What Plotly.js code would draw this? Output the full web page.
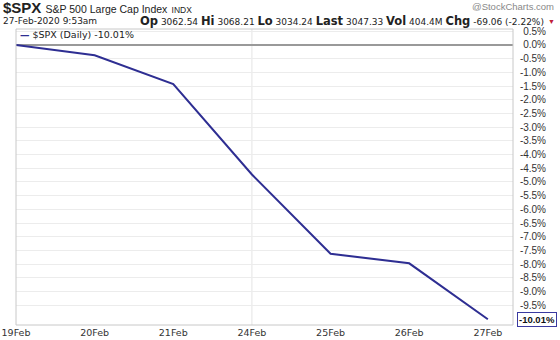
<!DOCTYPE html>
<html><head><meta charset="utf-8">
<script src="https://cdn.plot.ly/plotly-3.0.1.min.js"></script>
<style>body{margin:0;background:#fff}#c{width:560px;height:340px}</style>
</head><body><div id="c"></div>
<script>
const dates = ['19Feb','20Feb','21Feb','24Feb','25Feb','26Feb','27Feb'];
const pctChange = [0, -0.38, -1.43, -4.73, -7.62, -7.97, -10.01];
const yTickVals = [0.5,0,-0.5,-1,-1.5,-2,-2.5,-3,-3.5,-4,-4.5,-5,-5.5,-6,-6.5,-7,-7.5,-8,-8.5,-9,-9.5];
const yTickText = ['0.5%','0.0%','-0.5%','-1.0%','-1.5%','-2.0%','-2.5%','-3.0%','-3.5%','-4.0%','-4.5%','-5.0%','-5.5%','-6.0%','-6.5%','-7.0%','-7.5%','-8.0%','-8.5%','-9.0%','-9.5%'];
const lastLabel = '-10.01%';
const weekStart = '24Feb';

const W=560,H=340,mL=16,mR=14,mT=29,mB=15;
const pw=W-mL-mR, ph=H-mT-mB;
const px=q=>(q-mL)/pw, py=p=>(H-mB-p)/ph;
const xd = (513-mL)/pw;

const trace = {x:dates, y:pctChange, type:'scatter', mode:'lines',
  line:{color:'#2e2e92', width:2}, hoverinfo:'skip', cliponaxis:false};

const F='Arial, Liberation Sans, sans-serif';
const B="<b style='font-size:11.5px'>";
const layout = {
  width:W, height:H, margin:{l:mL,r:mR,t:mT,b:mB}, showlegend:false,
  paper_bgcolor:'#fff', plot_bgcolor:'#fff',
  xaxis:{type:'category', domain:[0,xd], range:[0,6.32], showgrid:false, zeroline:false,
    tickfont:{family:'DejaVu Sans, sans-serif',size:9.5,color:'#333'}, ticks:'', showline:false, automargin:false, fixedrange:true},
  yaxis:{range:[-10.22,0.58], anchor:'free', position:1, side:'left',
    tickvals:yTickVals, ticktext:yTickText, tickfont:{family:F,size:10,color:'#333'},
    showgrid:true, gridcolor:'#ececec', gridwidth:1, zeroline:true, zerolinecolor:'#999', zerolinewidth:1.5,
    ticks:'', showline:false, automargin:false, fixedrange:true},
  shapes:[
    {type:'line', xref:'x', yref:'paper', x0:weekStart, x1:weekStart, y0:0, y1:1, line:{color:'#e4e4e4',width:1}, layer:'below'},
    {type:'rect', xref:'paper', yref:'paper', x0:0, x1:xd, y0:0, y1:1, line:{color:'#c8c8c8',width:1}}
  ],
  annotations:[
    {xref:'paper',yref:'paper',x:px(1),y:py(7.5),xanchor:'left',yanchor:'middle',showarrow:false,
     text:"<b>$SPX</b> <span style='font-size:10.5px'>S&P 500 Large Cap Index</span> <span style='font-size:8.5px'>INDX</span>",
     font:{family:F,size:15,color:'#222'}},
    {xref:'paper',yref:'paper',x:px(556),y:py(6),xanchor:'right',yanchor:'middle',showarrow:false,
     text:'@StockCharts.com', font:{family:F,size:9.5,color:'#888'}},
    {xref:'paper',yref:'paper',x:px(1),y:py(21),xanchor:'left',yanchor:'middle',showarrow:false,
     text:'27-Feb-2020 9:53am', font:{family:'DejaVu Sans, sans-serif',size:9,color:'#222'}},
    {xref:'paper',yref:'paper',x:px(546),y:py(21),xanchor:'right',yanchor:'middle',showarrow:false,
     text:B+"Op</b> 3062.54 "+B+"Hi</b> 3068.21 "+B+"Lo</b> 3034.24 "+B+"Last</b> 3047.33 "+B+"Vol</b> 404.4M "+B+"Chg</b> -69.06 (-2.22%)",
     font:{family:'DejaVu Sans, sans-serif',size:9,color:'#222'}},
    {xref:'paper',yref:'paper',x:px(551),y:py(21),xanchor:'center',yanchor:'middle',showarrow:false,
     text:'▼', font:{family:F,size:7,color:'#c0203a'}},
    {xref:'paper',yref:'paper',x:px(18),y:py(34),xanchor:'left',yanchor:'middle',showarrow:false,
     text:"<span style='color:#2e2e92'><b>—</b></span> $SPX (Daily) -10.01%", font:{family:'DejaVu Sans, Verdana, sans-serif',size:9.5,color:'#222'}},
    {xref:'paper',yref:'y',x:px(517),y:pctChange[pctChange.length-1],xanchor:'left',yanchor:'middle',showarrow:false,
     text:'<b>'+lastLabel+'</b>', font:{family:F,size:9.5,color:'#111'}, bgcolor:'#fff', bordercolor:'#3a3aa0', borderwidth:1, borderpad:1}
  ]
};
Plotly.newPlot('c',[trace],layout,{staticPlot:true,displayModeBar:false});
</script></body></html>
